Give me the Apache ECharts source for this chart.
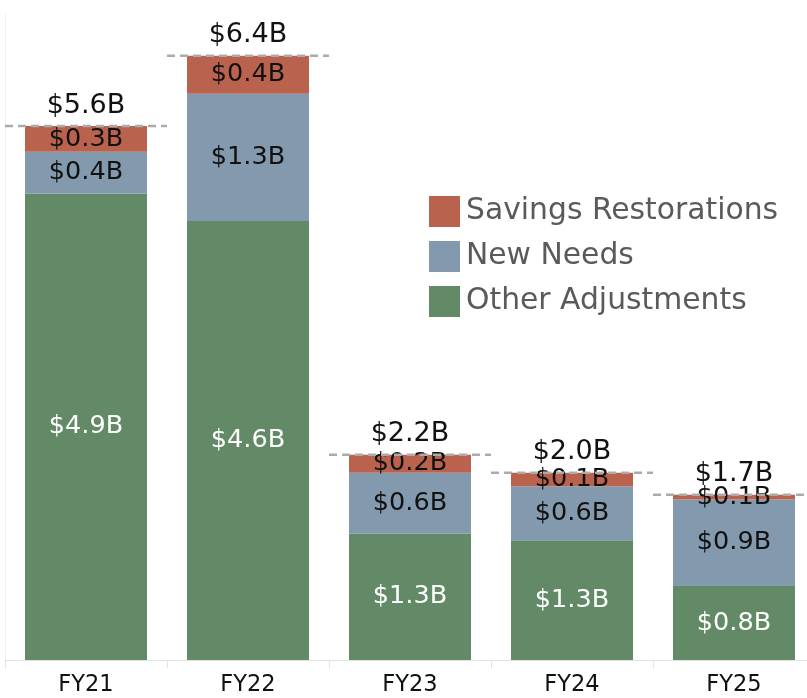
<!DOCTYPE html>
<html>
<head>
<meta charset="utf-8">
<script src="https://cdn.jsdelivr.net/npm/echarts@6/dist/echarts.min.js"></script>
<style>
  html, body { margin: 0; padding: 0; background: #fff; overflow: hidden; }
  #chart { width: 815px; height: 698px; }
</style>
</head>
<body>
<div id="chart"></div>
<script>
  // values in $B
  const years = ['FY21', 'FY22', 'FY23', 'FY24', 'FY25']
  const otherAdjustments = [4.91, 4.62, 1.33, 1.26, 0.78]
  const newNeeds = [0.44, 1.34, 0.64, 0.57, 0.91]
  const savingsRestorations = [0.27, 0.40, 0.19, 0.14, 0.05]

  const totals = years.map((y, i) => otherAdjustments[i] + newNeeds[i] + savingsRestorations[i])

  const FONT = 'DejaVu Sans'
  const fmt = v => '$' + (Math.round(v * 10) / 10).toFixed(1) + 'B'

  const segment = (name, data, color, labelColor) => ({
    name: name,
    type: 'bar',
    stack: 'total',
    data: data,
    barWidth: 122,
    itemStyle: { color: color },
    label: {
      show: true,
      position: 'inside',
      color: labelColor,
      fontFamily: FONT,
      fontSize: 25.5,
      formatter: p => fmt(p.value)
    },
    emphasis: { disabled: true }
  })

  // div is a little wider than the window so the last category runs off the edge
  const chart = echarts.init(document.getElementById('chart'))
  chart.setOption({
    animation: false,
    legend: {
      orient: 'vertical',
      left: 424,
      top: 191,
      icon: 'rect',
      itemWidth: 31,
      itemHeight: 31,
      itemGap: 14,
      textStyle: { fontFamily: FONT, fontSize: 29.8, color: '#5a5a5a', padding: [0, 0, 0, 1] },
      data: ['Savings Restorations', 'New Needs', 'Other Adjustments']
    },
    grid: { left: 5, right: 0, top: 14, bottom: 38 },
    xAxis: {
      type: 'category',
      data: years,
      axisLine: { lineStyle: { color: '#e3e3e3', width: 1 } },
      axisTick: { show: true, length: 8, lineStyle: { color: '#e3e3e3' } },
      axisLabel: { color: '#111', fontFamily: FONT, fontSize: 22.5, margin: 14 }
    },
    yAxis: {
      type: 'value',
      min: 0,
      max: 6.8,
      axisLine: { show: true, lineStyle: { color: '#f2f2f2' } },
      axisTick: { show: false },
      axisLabel: { show: false },
      splitLine: { show: false }
    },
    series: [
      segment('Other Adjustments', otherAdjustments, '#638a66', '#fff'),
      segment('New Needs', newNeeds, '#8399ae', '#111'),
      segment('Savings Restorations', savingsRestorations, '#b9634f', '#111'),
      {
        type: 'custom',
        name: 'Total',
        data: totals.map((t, i) => [i, t]),
        z: 5,
        silent: true,
        renderItem: (params, api) => {
          const pt = api.coord([api.value(0), api.value(1)])
          const w = api.size([1, 0])[0]
          return {
            type: 'group',
            children: [
              {
                type: 'line',
                shape: { x1: pt[0] - w / 2, y1: pt[1], x2: pt[0] + w / 2, y2: pt[1] },
                style: { stroke: '#ababab', lineWidth: 2.5, lineDash: [8, 5] }
              },
              {
                type: 'text',
                style: {
                  text: fmt(api.value(1)),
                  x: pt[0],
                  y: pt[1] - 7,
                  align: 'center',
                  verticalAlign: 'bottom',
                  fill: '#111',
                  fontFamily: FONT,
                  fontSize: 27
                }
              }
            ]
          }
        }
      }
    ]
  })
</script>
</body>
</html>
